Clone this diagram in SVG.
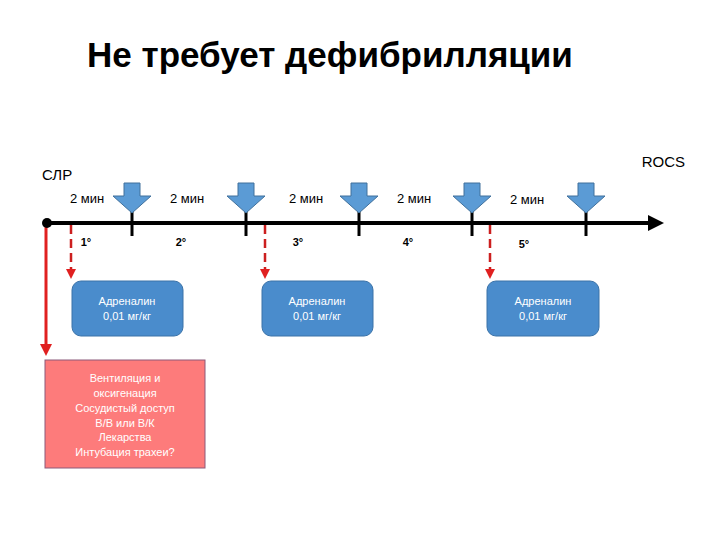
<svg xmlns="http://www.w3.org/2000/svg" width="720" height="540" viewBox="0 0 720 540">
<style>
text{font-family:"Liberation Sans",Arial,sans-serif}
.t{font-size:13px;fill:#000;text-anchor:middle}
.d{font-size:11px;font-weight:bold;text-anchor:middle}
.b{fill:#4a8ccc;stroke:#3a72a8;stroke-width:1}
.bt{font-size:11px;fill:#fff;text-anchor:middle}
.tick{stroke:#000;stroke-width:3}
.ar{fill:#5b9bd5;stroke:#41719c;stroke-width:1}
.rd{stroke:#cc1f1f;stroke-width:2.5;stroke-dasharray:9,5;fill:none}
</style>
<defs>
<marker id="rh" markerWidth="4" markerHeight="4" refX="2" refY="2" orient="auto"><path d="M0,0L4,2L0,4z" fill="#e02020"/></marker>
<marker id="bh" markerWidth="4" markerHeight="4" refX="1" refY="2" orient="auto"><path d="M0,0L4,2L0,4z" fill="#000"/></marker>
</defs>
<rect width="720" height="540" fill="#fff"/>
<text x="330" y="67" font-size="35" font-weight="bold" text-anchor="middle">Не требует дефибрилляции</text>
<text x="42" y="180" font-size="15">СЛР</text>
<text x="685" y="167" font-size="15" text-anchor="end">ROCS</text>
<g id="connectors">
<line x1="47" y1="223" x2="652" y2="223" stroke="#000" stroke-width="4" marker-end="url(#bh)"/>
<line class="tick" x1="132" y1="208" x2="132" y2="236"/>
<line class="tick" x1="246" y1="208" x2="246" y2="236"/>
<line class="tick" x1="359" y1="208" x2="359" y2="236"/>
<line class="tick" x1="472" y1="208" x2="472" y2="236"/>
<line class="tick" x1="586" y1="208" x2="586" y2="236"/>
<line x1="46" y1="224" x2="46" y2="350" stroke="#e02020" stroke-width="3" marker-end="url(#rh)"/>
<line class="rd" x1="71" y1="225" x2="71" y2="274" marker-end="url(#rh)"/>
<line class="rd" x1="265" y1="225" x2="265" y2="274" marker-end="url(#rh)"/>
<line class="rd" x1="490" y1="225" x2="490" y2="274" marker-end="url(#rh)"/>
</g>
<circle cx="47" cy="223" r="5" fill="#000"/>
<g id="arrows">
<path class="ar" d="M124,183h16v13h11l-19,17l-19,-17h11z"/>
<path class="ar" d="M238,183h16v13h11l-19,17l-19,-17h11z"/>
<path class="ar" d="M351,183h16v13h11l-19,17l-19,-17h11z"/>
<path class="ar" d="M464,183h16v13h11l-19,17l-19,-17h11z"/>
<path class="ar" d="M578,183h16v13h11l-19,17l-19,-17h11z"/>
</g>
<g id="labels">
<text class="t" x="87" y="203">2 мин</text>
<text class="t" x="187" y="203">2 мин</text>
<text class="t" x="306" y="203">2 мин</text>
<text class="t" x="414" y="203">2 мин</text>
<text class="t" x="527" y="204">2 мин</text>
<text class="d" x="86" y="246">1°</text>
<text class="d" x="181" y="246">2°</text>
<text class="d" x="298" y="246">3°</text>
<text class="d" x="408" y="246">4°</text>
<text class="d" x="524" y="248">5°</text>
</g>
<g id="box1"><rect class="b" x="72" y="281" width="111" height="55" rx="9"/><text class="bt" x="127" y="305">Адреналин</text><text class="bt" x="127" y="320">0,01 мг/кг</text></g>
<g id="box2"><rect class="b" x="262" y="281" width="111" height="55" rx="9"/><text class="bt" x="317" y="305">Адреналин</text><text class="bt" x="317" y="320">0,01 мг/кг</text></g>
<g id="box3"><rect class="b" x="487" y="281" width="112" height="55" rx="9"/><text class="bt" x="543" y="305">Адреналин</text><text class="bt" x="543" y="320">0,01 мг/кг</text></g>
<g id="box4"><rect x="45" y="360" width="160" height="108" fill="#fd7b7b" stroke="#8b5a7a" stroke-width="1"/>
<text class="bt" x="125" y="382">Вентиляция и</text>
<text class="bt" x="125" y="397">оксигенация</text>
<text class="bt" x="125" y="412">Сосудистый доступ</text>
<text class="bt" x="125" y="427">В/В или В/К</text>
<text class="bt" x="125" y="441">Лекарства</text>
<text class="bt" x="125" y="456">Интубация трахеи?</text></g>
</svg>
